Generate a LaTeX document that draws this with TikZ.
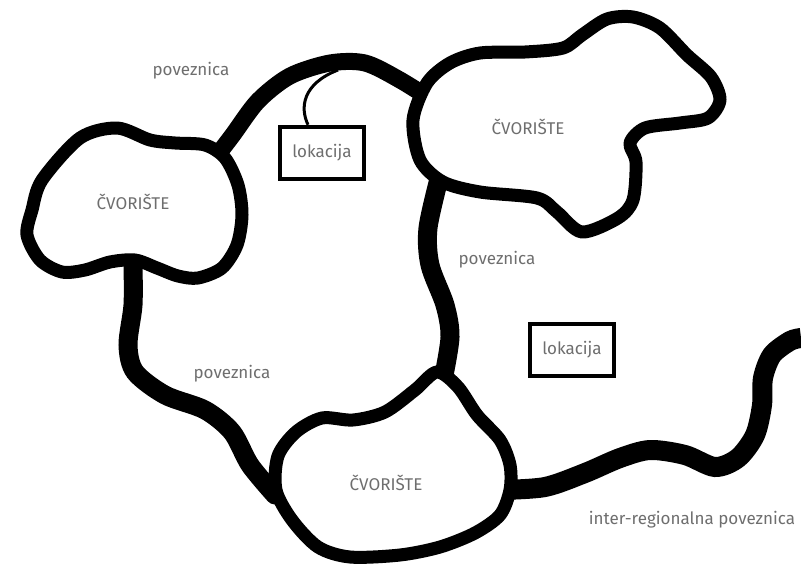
\documentclass[tikz,border=0pt]{standalone}
\usepackage{fontspec}
\setmainfont{Fira Sans}
\newcommand{\lsz}{\fontsize{17}{20}\selectfont}
\definecolor{txtgray}{RGB}{110,110,110}

\begin{document}
\begin{tikzpicture}[x=1pt,y=-1pt,
    blob/.style={fill=white,draw=black,line width=13pt,line join=round},
    link/.style={draw=black,line width=19pt,line cap=round},
    lbl/.style={text=txtgray,font=\lsz},
    lok/.style={draw,line width=4.5pt,minimum width=84pt,minimum height=52pt,
                inner sep=0pt,text=txtgray,font=\lsz}]
    \useasboundingbox (0,0) rectangle (801,570);
    % poveznice
    \draw[link,line width=17pt] plot[smooth] coordinates {(212,162) (232,136) (258,101)
       (290,76) (330,63) (365,63) (400,80) (440,105)};
    \draw[link] plot[smooth] coordinates {(133,265) (133,305) (128,345) (135,372)
       (165,395) (205,410) (232,432) (250,465) (275,495)};
    \draw[link] plot[smooth] coordinates {(440,175) (428,228) (430,265) (445,305)
       (450,337) (443,380)};
    \draw[link,line width=20pt,line cap=butt] plot[smooth] coordinates {(500,490)
       (545,487) (585,473) (620,458) (650,450) (685,455) (715,467) (738,458)
       (755,435) (762,405) (763,378) (772,355) (790,341) (801,338)};
    % cvorista
    \draw[blob] plot[smooth cycle] coordinates {(42,180) (80,138) (117,128) (150,140)
       (175,143) (205,145) (225,158) (238,185) (242,215) (237,245) (222,268)
       (198,278) (178,276) (157,268) (135,260) (110,262) (85,270) (62,272)
       (40,260) (27,235) (32,210)};
    \draw[blob] plot[smooth cycle] coordinates {(450,63) (480,53) (525,52) (563,48)
       (582,35) (607,19) (633,17) (660,28) (687,55) (711,77) (720,100) (708,118)
       (680,123) (645,128) (630,143) (636,162) (633,200) (618,218) (582,232)
       (557,212) (537,198) (480,192) (443,182) (420,160) (413,120) (427,83)};
    \draw[blob] plot[smooth cycle] coordinates {(437,372) (458,387) (477,415)
       (500,440) (510,465) (510,490) (500,515) (475,533) (440,547) (400,555)
       (350,557) (318,547) (292,520) (276,490) (278,456) (296,432) (322,418)
       (353,420) (385,412) (415,390)};
    % lokacije
    \node[lok] (lok1) at (322,153) {lokacija};
    \node[lok] (lok2) at (572,350) {lokacija};
    \coordinate (spoj) at (338,70);
    \draw[line width=3pt] ([xshift=-14pt]lok1.north) .. controls (300,108) and (302,84) .. (spoj);
    % oznake
    \node[lbl] (pov1) at (191,71) {poveznica};
    \node[lbl] (cv1) at (133,202) {ČVORIŠTE};
    \node[lbl] (cv2) at (528,127) {ČVORIŠTE};
    \node[lbl] (pov2) at (497,260) {poveznica};
    \node[lbl] (pov3) at (232,374) {poveznica};
    \node[lbl] (cv3) at (386,483) {ČVORIŠTE};
    \node[lbl] (pov4) at (692,520) {inter-regionalna poveznica};
\end{tikzpicture}
\end{document}
